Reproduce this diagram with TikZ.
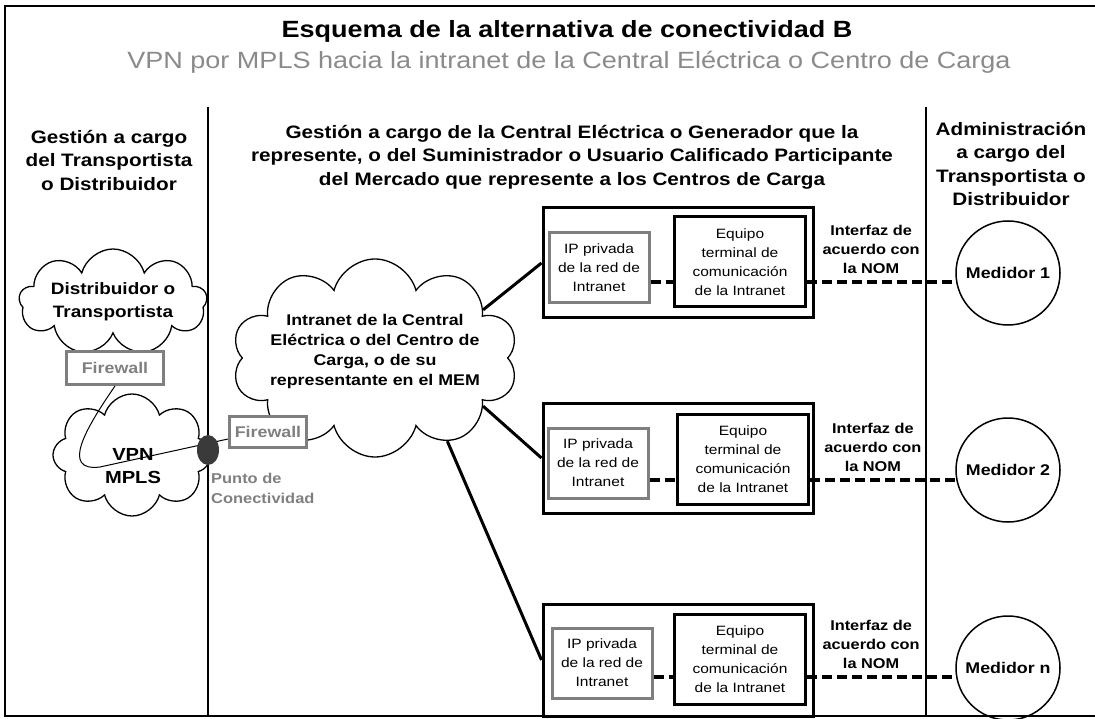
\documentclass[tikz,border=0pt]{standalone}
\usepackage{fontspec}
\setmainfont{Liberation Sans}[FakeStretch=1.15]
\usetikzlibrary{positioning,shapes.symbols,shapes.geometric}
\definecolor{fwgray}{HTML}{7F7F7F}
\definecolor{subgray}{HTML}{8A8A8A}
\definecolor{dotgray}{HTML}{3A3A3A}
\tikzset{
  hdr/.style={font=\bfseries\fontsize{18}{23.5}\selectfont, align=center, inner sep=0pt},
  cloudbox/.style={cloud, draw, line width=1.3pt, fill=white, cloud ignores aspect, inner sep=0pt},
  cloudtxt/.style={font=\bfseries\fontsize{16.5}{23}\selectfont, align=center, inner sep=0pt},
  fwbox/.style={draw=fwgray, line width=3pt, fill=white, text=fwgray, font=\bfseries\fontsize{15.5}{18}\selectfont, inner sep=0pt},
  outerbox/.style={draw, line width=3pt, minimum width=270pt, minimum height=110pt},
  ipbox/.style={draw=fwgray, line width=3pt, fill=white, minimum width=100pt, minimum height=70pt, align=center, font=\fontsize{13.5}{19}\selectfont, inner sep=0pt},
  eqbox/.style={draw, line width=3pt, fill=white, minimum width=131pt, minimum height=90pt, align=center, font=\fontsize{13.5}{19}\selectfont, inner sep=0pt},
  meter/.style={circle, draw, line width=1.5pt, minimum size=104pt, font=\bfseries\fontsize{15.5}{18}\selectfont, inner sep=0pt},
  linkln/.style={line width=3pt},
  dashln/.style={line width=4.5pt, dash pattern=on 10pt off 5pt},
  nomtxt/.style={font=\bfseries\fontsize{14.2}{19}\selectfont, align=center, inner sep=0pt},
}
\begin{document}
\begin{tikzpicture}[x=1pt,y=-1pt]
\useasboundingbox (0,0) rectangle (1095,719);
\draw[line width=2pt] (1095,6) -- (5,6) -- (5,716) -- (1095,716);
\draw[line width=1.5pt] (208,107) -- (208,716);
\draw[line width=1.5pt] (926,107) -- (926,716);

\node (title) [font=\bfseries\fontsize{23.5}{28}\selectfont, anchor=base] at (567,38) {Esquema de la alternativa de conectividad B};
\node (subtitle) [font=\fontsize{23.5}{28}\selectfont, text=subgray, anchor=base] at (569,69) {VPN por MPLS hacia la intranet de la Central Eléctrica o Centro de Carga};

\node (hleft) [hdr] at (109,160) {Gestión a cargo\\del Transportista\\o Distribuidor};
\node (hmid) [hdr] at (572,157) {Gestión a cargo de la Central Eléctrica o Generador que la\\represente, o del Suministrador o Usuario Calificado Participante\\del Mercado que represente a los Centros de Carga};
\node (hright) [hdr] at (1011,164) {Administración\\a cargo del\\Transportista o\\Distribuidor};

% left side clouds
\node (dtcloud) [cloudbox, cloud puffs=9, minimum width=188pt, minimum height=106pt] at (113,302) {};
\node (dtlabel) [cloudtxt] at (dtcloud.center) {Distribuidor o\\Transportista};
\node (vpncloud) [cloudbox, cloud puffs=8, minimum width=158pt, minimum height=122pt] at (132,455) {};
\node (intcloud) [cloudbox, cloud puffs=10, minimum width=286pt, minimum height=198pt] at (375,358) {};
\node (intlabel) [cloudtxt, font=\bfseries\fontsize{15.5}{20}\selectfont] at (375,351) {Intranet de la Central\\Eléctrica o del Centro de\\Carga, o de su\\representante en el MEM};

\node (fw1) [fwbox, minimum width=97pt, minimum height=33pt] at (115,368) {Firewall};
\node (fw2) [fwbox, minimum width=77pt, minimum height=31pt] at (268,432) {Firewall};
\draw[line width=1pt] (fw1.south) .. controls (86,428) and (60,472) .. (100,467) -- ([yshift=-7pt]fw2.west);
\node (vpnlabel) [cloudtxt, font=\bfseries\fontsize{17.5}{23}\selectfont] at (133,466) {VPN\\MPLS};

\node (pc) [ellipse, fill=dotgray, minimum width=22pt, minimum height=30pt, inner sep=0pt] at (208,450) {};
\node (pclabel) [anchor=north west, text=fwgray, font=\bfseries\fontsize{14.3}{20}\selectfont, align=left, inner sep=0pt] at (211,473) {Punto de\\Conectividad};

% row 1
\node (row1) [outerbox] at (678,263) {};
\node (ip1) [ipbox] at (599,268) {IP privada\\de la red de\\Intranet};
\node (eq1) [eqbox] at (740,262) {Equipo\\terminal de\\comunicación\\de la Intranet};
\node (m1) [meter] at (1008,273) {Medidor 1};
\draw[dashln] (ip1.east |- m1.190) -- (eq1.west |- m1.190);
\draw[dashln] (eq1.east |- m1.190) -- (m1.190) node (nom1) [nomtxt, pos=0.43, above=6pt] {Interfaz de\\acuerdo con\\la NOM};
\draw[linkln] (intcloud.24) -- (row1.west);

% row 2
\node (row2) [outerbox] at (678,458) {};
\node (ip2) [ipbox] at (598,463) {IP privada\\de la red de\\Intranet};
\node (eq2) [eqbox] at (743,459) {Equipo\\terminal de\\comunicación\\de la Intranet};
\node (m2) [meter] at (1008,470) {Medidor 2};
\draw[dashln] (ip2.east |- m2.191) -- (eq2.west |- m2.191);
\draw[dashln] (eq2.east |- m2.191) -- (m2.191) node (nom2) [nomtxt, pos=0.43, above=6pt] {Interfaz de\\acuerdo con\\la NOM};
\draw[linkln] (intcloud.-24) -- (row2.west);

% row 3
\node (row3) [outerbox, minimum height=112pt] at (678,660) {};
\node (ip3) [ipbox] at (602,663) {IP privada\\de la red de\\Intranet};
\node (eq3) [eqbox] at (740,659) {Equipo\\terminal de\\comunicación\\de la Intranet};
\node (m3) [meter] at (1008,668) {Medidor n};
\draw[dashln] (ip3.east |- m3.190) -- (eq3.west |- m3.190);
\draw[dashln] (eq3.east |- m3.190) -- (m3.190) node (nom3) [nomtxt, pos=0.43, above=6pt] {Interfaz de\\acuerdo con\\la NOM};
\draw[linkln] (intcloud.-49) -- (row3.west);
\end{tikzpicture}
\end{document}
